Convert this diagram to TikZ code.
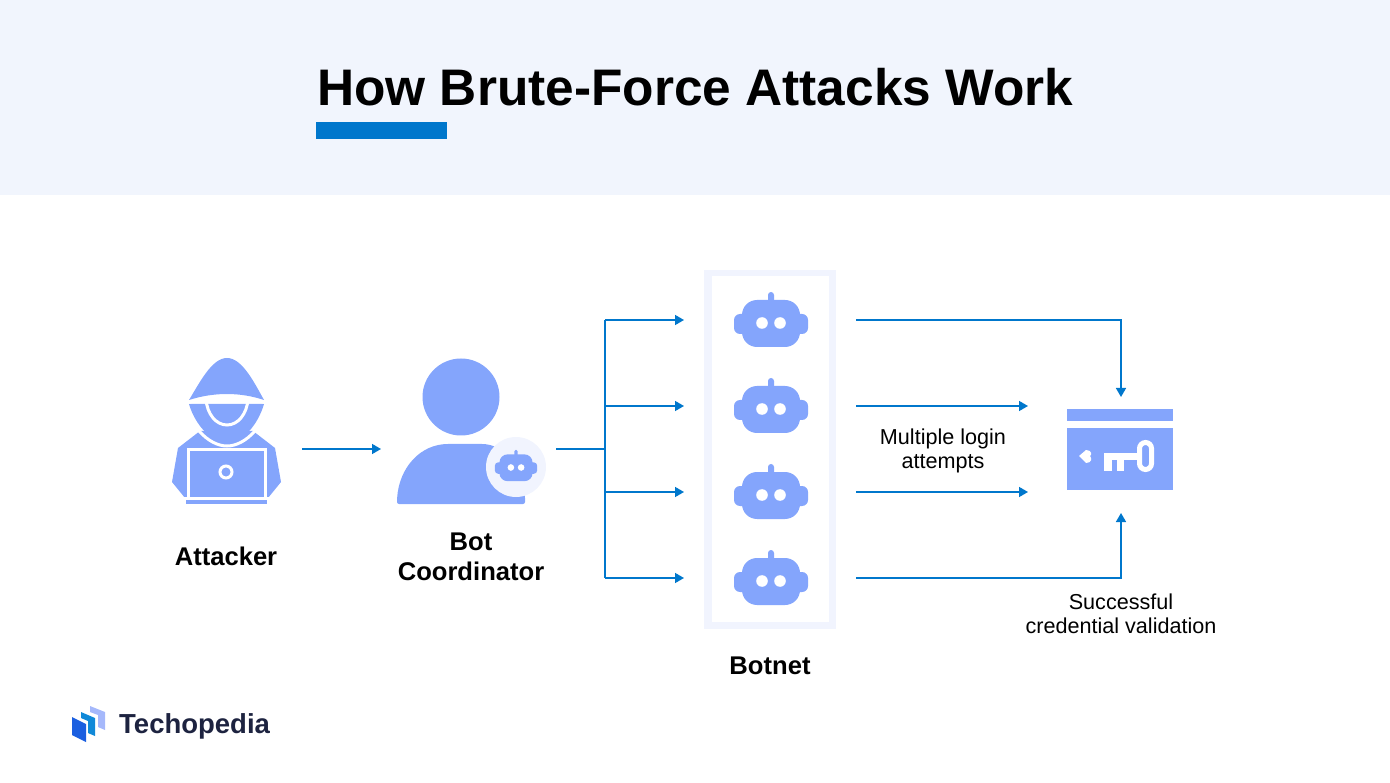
\documentclass[tikz,border=0pt]{standalone}
\usepackage{fontspec}
\setmainfont{Liberation Sans}
\usetikzlibrary{arrows.meta}

\definecolor{bandcol}{HTML}{F1F5FD}
\definecolor{panelcol}{HTML}{F1F4FE}
\definecolor{iconcol}{HTML}{84A5FC}
\definecolor{linecol}{HTML}{0077CC}
\definecolor{inkcol}{HTML}{1D2340}
\definecolor{logoa}{HTML}{1B5FE0}
\definecolor{logob}{HTML}{1089D8}
\definecolor{logoc}{HTML}{A5B8FB}

\tikzset{
  iconslot/.style={inner sep=0pt, outer sep=0pt, minimum height=30pt},
  flow/.style={->, linecol, line width=1.5pt},
  biglabel/.style={align=center, font=\fontsize{25.6}{30}\selectfont\bfseries},
  smalllabel/.style={align=center, font=\fontsize{21.6}{24}\selectfont},
  pics/botpic/.style={code={
    \fill[iconcol, rounded corners=#1*0.4] (-37,-9) rectangle (37,11);
    \fill[iconcol, rounded corners=#1] (-29,-23) rectangle (29,24);
    \fill[iconcol, rounded corners=#1*0.2] (-3,-31) rectangle (3,-15);
    \fill[white] (-9,0) circle (5.8);
    \fill[white] (9,0) circle (5.8);
  }}
}

\begin{document}
\begin{tikzpicture}[x=1pt, y=-1pt, >={Triangle[length=9pt,width=10pt]}]

  \useasboundingbox (0,0) rectangle (1390,783);

  % header
  \fill[bandcol] (0,0) rectangle (1390,195);
  \node[anchor=west, inner sep=0pt, font=\fontsize{51.4}{52}\selectfont\bfseries] (title) at (317,87) {How Brute-Force Attacks Work};
  \fill[linecol] (316,122) rectangle (447,139);

  % attacker
  \node[iconslot, minimum width=152pt] (attacker) at (226,449) {};
  \fill[iconcol] (200,431) -- (178,448) -- (172,482) -- (185,498) -- (268,498) -- (281,482) -- (275,448) -- (253,431) -- cycle;
  \fill[iconcol] (189,404) .. controls (195,425) and (212,443) .. (227,443) .. controls (242,443) and (258,425) .. (264,404) -- cycle;
  \draw[white, line width=3pt] (199,431) .. controls (208,441) and (218,446) .. (227,446) .. controls (236,446) and (246,441) .. (255,431);
  \fill[iconcol] (189,400) .. controls (200,382) and (212,358) .. (227,358) .. controls (242,358) and (254,382) .. (264,400) .. controls (240,392) and (214,392) .. (189,400) -- cycle;
  \draw[white, line width=2.5pt] (188,403) .. controls (214,394) and (240,394) .. (265,403);
  \draw[white, line width=3pt] (206,399) .. controls (207,414) and (216,425) .. (227,425) .. controls (238,425) and (247,414) .. (248,399);
  \fill[iconcol] (187,449) rectangle (266,498);
  \draw[white, line width=3pt] (188,498) -- (188,450) -- (265,450) -- (265,498);
  \draw[white, line width=3pt] (180,498.5) -- (272,498.5);
  \fill[iconcol] (186,500) rectangle (267,504);
  \draw[white, line width=3pt] (226,472) circle (6);

  % coordinator
  \node[iconslot, minimum width=175pt] (coordinator) at (468.5,449) {};
  \fill[iconcol] (461,397) circle (38.5);
  \fill[iconcol, rounded corners=2pt] (397,504) -- (397,500) .. controls (399,468) and (420,444) .. (450,444) -- (480,444) .. controls (505,444) and (525,468) .. (525,500) -- (525,504) -- cycle;
  \fill[panelcol] (516,467) circle (30);
  \pic[scale=0.57] at (516,467.5) {botpic=8pt};

  % botnet
  \fill[panelcol] (704,270) rectangle (836,629);
  \fill[white] (712,276) rectangle (829,622);
  \node[iconslot, minimum width=172pt] (bot1) at (770,320) {};
  \node[iconslot, minimum width=172pt] (bot2) at (770,406) {};
  \node[iconslot, minimum width=172pt] (bot3) at (770,492) {};
  \node[iconslot, minimum width=172pt] (bot4) at (770,578) {};
  \pic at (771,323) {botpic=15pt};
  \pic at (771,409) {botpic=15pt};
  \pic at (771,495) {botpic=15pt};
  \pic at (771,581) {botpic=15pt};

  % key card
  \node[iconslot, minimum width=186pt, minimum height=116pt] (keycard) at (1121,455) {};
  \fill[iconcol] (1067,409) rectangle (1173,421);
  \fill[iconcol] (1067,428) rectangle (1173,490);
  \fill[white] (1079,456) -- (1086,450) .. controls (1092,450) and (1092,455) .. (1090,456) .. controls (1092,458) and (1092,463) .. (1086,463) -- cycle;
  \fill[white] (1104,453) rectangle (1140,460);
  \fill[white] (1104,453) rectangle (1112,471);
  \fill[white] (1117,453) rectangle (1124,471);
  \draw[white, line width=5pt, rounded corners=6pt] (1139.5,442.5) rectangle (1151.5,469.5);

  % connectors
  \coordinate (trunk) at (605,449);
  \draw[flow] (attacker) -- (coordinator);
  \draw[linecol, line width=1.5pt] (coordinator.east) -- (trunk);
  \draw[linecol, line width=1.5pt] (trunk |- bot1) -- (trunk |- bot4);
  \draw[flow] (trunk |- bot1) -- (bot1.west);
  \draw[flow] (trunk |- bot2) -- (bot2.west);
  \draw[flow] (trunk |- bot3) -- (bot3.west);
  \draw[flow] (trunk |- bot4) -- (bot4.west);
  \draw[flow] (bot1.east) -| (keycard.north);
  \draw[flow] (bot2.east) -- (bot2 -| keycard.west);
  \draw[flow] (bot3.east) -- (bot3 -| keycard.west);
  \draw[flow] (bot4.east) -| (keycard.south);

  % labels
  \node[biglabel] (attackerlabel) at (226,556) {Attacker};
  \node[biglabel] (coordinatorlabel) at (471,557) {Bot\\Coordinator};
  \node[biglabel] (botnetlabel) at (770,666) {Botnet};
  \node[smalllabel] (loginlabel) at (943,451) {Multiple login\\attempts};
  \node[smalllabel] (validlabel) at (1121,614) {Successful\\credential validation};

  % logo
  \fill[logoa] (72,717) -- (86,724) -- (86,742) -- (72,735) -- cycle;
  \fill[logob] (81,712) -- (95,718) -- (95,736) -- (88,733) -- (88,721) -- (81,718) -- cycle;
  \fill[logoc] (90,706) -- (105,712) -- (105,730) -- (98,727) -- (98,715) -- (90,712) -- cycle;
  \node[anchor=west, inner sep=0pt, text=inkcol, font=\fontsize{27.5}{29}\selectfont\bfseries] (logotext) at (119,726) {Techopedia};

\end{tikzpicture}
\end{document}
